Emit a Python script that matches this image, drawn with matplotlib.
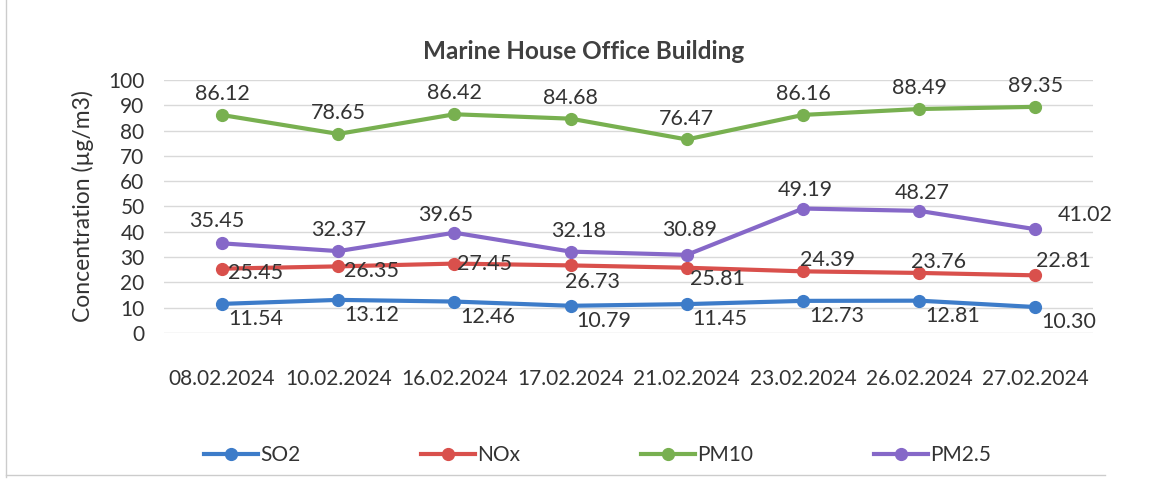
import matplotlib
matplotlib.use("Agg")
import matplotlib.pyplot as plt
from matplotlib.lines import Line2D

plt.rcParams['font.family'] = ['Lato', 'DejaVu Sans']

dates = ["08.02.2024", "10.02.2024", "16.02.2024", "17.02.2024",
         "21.02.2024", "23.02.2024", "26.02.2024", "27.02.2024"]
so2 = [11.54, 13.12, 12.46, 10.79, 11.45, 12.73, 12.81, 10.30]
nox = [25.45, 26.35, 27.45, 26.73, 25.81, 24.39, 23.76, 22.81]
pm10 = [86.12, 78.65, 86.42, 84.68, 76.47, 86.16, 88.49, 89.35]
pm25 = [35.45, 32.37, 39.65, 32.18, 30.89, 49.19, 48.27, 41.02]

series = [
    ("SO2", so2, "#3d7cc9"),
    ("NOx", nox, "#d9504c"),
    ("PM10", pm10, "#78b050"),
    ("PM2.5", pm25, "#8668c8"),
]

# label offsets in points (dx, dy) for each series
offsets = {
    "SO2": [(24, -11)] * 8,
    "NOx": [(24, -3), (24, -3), (22, 0), (16, -12), (22, -8), (18, 8), (14, 8), (20, 10)],
    "PM10": [(0, 15)] * 8,
    "PM2.5": [(-4, 16), (0, 15), (-6, 13), (6, 15), (2, 18), (2, 13), (2, 13), (36, 10)],
}

fig = plt.figure(figsize=(11.51, 4.87), dpi=100)
ax = fig.add_axes([0.1425, 0.316, 0.8075, 0.52])

x = list(range(len(dates)))
for name, vals, color in series:
    ax.plot(x, vals, color=color, lw=3, marker='o', ms=8.5, solid_capstyle='round', zorder=3)
    for xi, v, (dx, dy) in zip(x, vals, offsets[name]):
        ax.annotate(f"{v:.2f}", (xi, v), xytext=(dx, dy), textcoords='offset points',
                    ha='center', va='center', fontsize=15.5, color='#333333', zorder=4)

ax.set_xlim(-0.5, len(dates) - 0.5)
ax.set_ylim(0, 100)
ax.set_yticks(range(0, 101, 10))
ax.set_xticks(x)
ax.set_xticklabels(dates)
ax.tick_params(axis='both', length=0, labelsize=15, colors='#333333')
ax.tick_params(axis='x', pad=26)
ax.tick_params(axis='y', pad=14)
ax.grid(axis='y', color='#d9d9d9', lw=1)
ax.set_axisbelow(True)
for s in ax.spines.values():
    s.set_visible(False)

ax.set_ylabel("Concentration (µg/m3)", fontsize=16.5, color='#333333', labelpad=10)
fig.text(0.507, 0.895, "Marine House Office Building", ha='center', va='center',
         fontsize=17.5, fontweight='bold', color='#404040')

handles = [Line2D([0], [0], color=c, lw=3, marker='o', ms=8.5) for _, _, c in series]
labels = [n for n, _, _ in series]
fig.legend(handles, labels, loc='center', ncol=4, frameon=False,
           bbox_to_anchor=(185 / 1151, 1 - 470 / 487, (1010 - 185) / 1151, 30 / 487),
           mode='expand', fontsize=15, handlelength=2.6, handletextpad=0.1,
           labelcolor='#333333')

# faint outer border of the chart area
fig.add_artist(Line2D([0.005, 0.005], [0.02, 1.0], color='#cccccc', lw=1))
fig.add_artist(Line2D([0.005, 0.96], [0.025, 0.025], color='#cccccc', lw=1))

fig.savefig("out.png", dpi=100)
